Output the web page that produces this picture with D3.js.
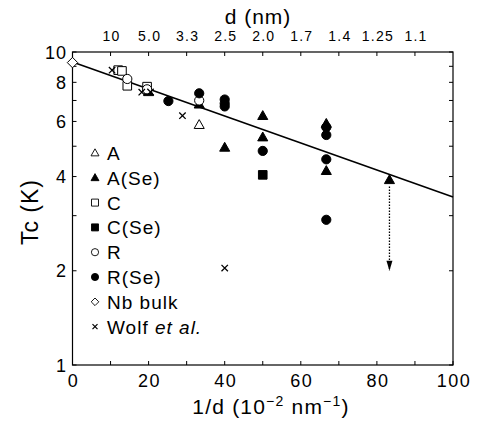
<!DOCTYPE html>
<html lang="en">
<head>
<meta charset="utf-8">
<title>Tc vs 1/d</title>
<script src="https://cdn.jsdelivr.net/npm/d3@7"></script>
<style>
  body { margin: 0; background: #fff; }
  svg { font-family: "Liberation Sans", Arial, sans-serif; }
</style>
</head>
<body>
<script>
// data: x = 1/d (10^-2 nm^-1), y = Tc (K)
var seriesA    = [[33.3, 5.85]];
var seriesASe  = [[20, 7.45], [33.3, 6.8], [40, 4.95], [50, 6.25], [50, 5.34],
                  [66.7, 5.9], [66.7, 4.17], [83.3, 3.9]];
var seriesC    = [[12, 8.75], [13, 8.7], [14.4, 7.8], [19.6, 7.75]];
var seriesCSe  = [[50, 4.05]];
var seriesR    = [[14.4, 8.2], [19.6, 7.6], [33.3, 7.0]];
var seriesRSe  = [[25.2, 6.97], [33.3, 7.38], [40, 7.05], [40, 6.85], [40, 6.7],
                  [50, 4.83], [66.7, 5.75], [66.7, 5.43], [66.7, 4.54], [66.7, 2.91]];
var seriesNb   = [[0, 9.25]];
var seriesWolf = [[10.4, 8.75], [18.2, 7.44], [20.5, 7.45], [28.9, 6.26], [40, 2.04]];

var fitLine = [[0, 9.29], [100, 3.44]];
var arrowPts = [[83.3, 3.72], [83.3, 2.0]];

var xTicks = [0, 10, 20, 30, 40, 50, 60, 70, 80, 90, 100];
var xLabels = [0, 20, 40, 60, 80, 100];
var topTicks = [10, 20, 30, 40, 50, 60, 70, 80, 90];
var topLabels = ["10", "5.0", "3.3", "2.5", "2.0", "1.7", "1.4", "1.25", "1.1"];
var yTicks = [1, 2, 3, 4, 5, 6, 7, 8, 9, 10];
var yLabels = [1, 2, 4, 6, 8, 10];

var legendNames = ["A", "A(Se)", "C", "C(Se)", "R", "R(Se)", "Nb bulk", "Wolf"];

var w = 477, h = 431;
var pLeft = 72.5, pRight = 453, pTop = 52, pBottom = 365;

var svg = d3.select("body").append("svg")
  .attr("width", w)
  .attr("height", h);

var x = d3.scaleLinear().domain([0, 100]).range([pLeft, pRight]);
var y = d3.scaleLog().domain([1, 10]).range([pBottom, pTop]);

// marker paths
function shape(type, r) {
  if (type == "tri") {
    return "M0," + (-r * 1.1) + "L" + (r * 1.05) + "," + (r * 0.75) + "L" + (-r * 1.05) + "," + (r * 0.75) + "Z";
  }
  if (type == "sq") {
    return "M" + (-r) + "," + (-r) + "h" + (2 * r) + "v" + (2 * r) + "h" + (-2 * r) + "Z";
  }
  if (type == "dia") {
    return "M0," + (-r) + "L" + r + ",0L0," + r + "L" + (-r) + ",0Z";
  }
  if (type == "x") {
    return "M" + (-r) + "," + (-r) + "L" + r + "," + r + "M" + r + "," + (-r) + "L" + (-r) + "," + r;
  }
  return d3.arc()({ innerRadius: 0, outerRadius: r, startAngle: 0, endAngle: 2 * Math.PI });
}

var styles = [
  { data: seriesA,    type: "tri", fill: "#fff" },
  { data: seriesASe,  type: "tri", fill: "#000" },
  { data: seriesC,    type: "sq",  fill: "#fff" },
  { data: seriesCSe,  type: "sq",  fill: "#000" },
  { data: seriesR,    type: "ci",  fill: "#fff" },
  { data: seriesRSe,  type: "ci",  fill: "#000" },
  { data: seriesNb,   type: "dia", fill: "#fff" },
  { data: seriesWolf, type: "x",   fill: "none" }
];
var markerSize = { tri: 4.8, sq: 4.3, ci: 4.6, dia: 5.2, x: 3.2 };
var legendSize = { tri: 3.8, sq: 3.5, ci: 3.6, dia: 3.8, x: 2.5 };

// frame
svg.append("rect")
  .attr("x", pLeft).attr("y", pTop)
  .attr("width", pRight - pLeft).attr("height", pBottom - pTop)
  .attr("fill", "none").attr("stroke", "#000").attr("stroke-width", 1.2);

// bottom ticks
svg.selectAll(".bt").data(xTicks).enter().append("line")
  .attr("x1", function(d) { return x(d); }).attr("x2", function(d) { return x(d); })
  .attr("y1", pBottom).attr("y2", pBottom - 4)
  .attr("stroke", "#000").attr("stroke-width", 1);
svg.selectAll(".bl").data(xLabels).enter().append("text")
  .attr("x", function(d) { return x(d) + 1; })
  .attr("y", 387)
  .attr("text-anchor", "middle")
  .attr("font-size", "18px")
  .attr("letter-spacing", "1.5px")
  .text(function(d) { return d; });

// top ticks
svg.selectAll(".tt").data(topTicks).enter().append("line")
  .attr("x1", function(d) { return x(d); }).attr("x2", function(d) { return x(d); })
  .attr("y1", pTop).attr("y2", pTop + 4)
  .attr("stroke", "#000").attr("stroke-width", 1);
svg.selectAll(".tl").data(topTicks).enter().append("text")
  .attr("x", function(d) { return x(d) + 1; })
  .attr("y", 41)
  .attr("text-anchor", "middle")
  .attr("font-size", "14px")
  .attr("letter-spacing", "1.2px")
  .text(function(d, i) { return topLabels[i]; });

// left / right ticks
svg.selectAll(".lt").data(yTicks).enter().append("line")
  .attr("x1", pLeft).attr("x2", pLeft + 4)
  .attr("y1", function(d) { return y(d); }).attr("y2", function(d) { return y(d); })
  .attr("stroke", "#000").attr("stroke-width", 1);
svg.selectAll(".rt").data(yTicks).enter().append("line")
  .attr("x1", pRight).attr("x2", pRight - 4)
  .attr("y1", function(d) { return y(d); }).attr("y2", function(d) { return y(d); })
  .attr("stroke", "#000").attr("stroke-width", 1);
svg.selectAll(".ll").data(yLabels).enter().append("text")
  .attr("x", 67)
  .attr("y", function(d) { return y(d) + 6.5; })
  .attr("text-anchor", "end")
  .attr("font-size", "18px")
  .attr("letter-spacing", "1px")
  .text(function(d) { return d; });

// axis titles
var xt = svg.append("text")
  .attr("x", 271).attr("y", 414)
  .attr("text-anchor", "middle")
  .attr("font-size", "21px")
  .attr("letter-spacing", "1.2px");
xt.append("tspan").text("1/d  (10");
xt.append("tspan").attr("dy", -8).attr("font-size", "14px").text("\u22122");
xt.append("tspan").attr("dy", 8).text(" nm");
xt.append("tspan").attr("dy", -8).attr("font-size", "14px").text("\u22121");
xt.append("tspan").attr("dy", 8).text(")");

svg.append("text")
  .attr("x", 258).attr("y", 24)
  .attr("text-anchor", "middle")
  .attr("font-size", "21px")
  .attr("letter-spacing", "1px")
  .text("d (nm)");

svg.append("text")
  .attr("transform", "translate(38,212) rotate(-90)")
  .attr("text-anchor", "middle")
  .attr("font-size", "23px")
  .attr("letter-spacing", "1px")
  .text("Tc (K)");

// fit line
var line = d3.line()
  .x(function(d) { return x(d[0]); })
  .y(function(d) { return y(d[1]); });
svg.append("path")
  .attr("d", line(fitLine))
  .attr("fill", "none").attr("stroke", "#000").attr("stroke-width", 1.6);

// dotted arrow
svg.append("path")
  .attr("d", line(arrowPts))
  .attr("fill", "none").attr("stroke", "#000").attr("stroke-width", 1.3)
  .attr("stroke-dasharray", "1.5,1.5");
var tip = arrowPts[1];
svg.append("path")
  .attr("d", "M" + (x(tip[0]) - 3) + "," + (y(tip[1]) - 10) + "L" + (x(tip[0]) + 3) + "," + (y(tip[1]) - 10) +
             "L" + x(tip[0]) + "," + y(tip[1]) + "Z")
  .attr("fill", "#000");

// markers
styles.forEach(function(s) {
  svg.selectAll(null).data(s.data).enter().append("path")
    .attr("transform", function(d) { return "translate(" + x(d[0]) + "," + y(d[1]) + ")"; })
    .attr("d", shape(s.type, markerSize[s.type]))
    .attr("fill", s.fill)
    .attr("stroke", "#000")
    .attr("stroke-width", s.type == "x" ? 1.3 : 1);
});

// legend
var lg = svg.append("g");
styles.forEach(function(s, i) {
  var ly = 153 + i * 24.8;
  lg.append("path")
    .attr("transform", "translate(95," + ly + ")")
    .attr("d", shape(s.type, legendSize[s.type]))
    .attr("fill", s.fill)
    .attr("stroke", "#000")
    .attr("stroke-width", s.type == "x" ? 1.2 : 0.9);
  var t = lg.append("text")
    .attr("x", 107).attr("y", ly + 7)
    .attr("font-size", "19px")
    .attr("letter-spacing", "1px");
  if (legendNames[i] == "Wolf") {
    t.append("tspan").text("Wolf ");
    t.append("tspan").attr("font-style", "italic").text("et al.");
  } else {
    t.text(legendNames[i]);
  }
});
</script>
</body>
</html>
